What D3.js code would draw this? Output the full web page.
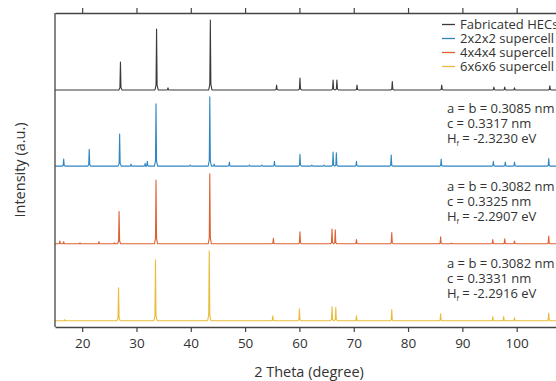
<html>
<head>
    <meta charset="utf-8">
    <title>XRD</title>
</head>
<style>
    body { margin: 0; background: #fff; }
    svg { display: block; font-family: "Open Sans", sans-serif; }
</style>
<body>
<script src="https://cdn.jsdelivr.net/npm/d3@7"></script>
<script>
    // series names, colours, vertical offsets (a.u.)
    var names = ["Fabricated HECs", "2x2x2 supercell", "4x4x4 supercell", "6x6x6 supercell"];
    var colors = ["#3a3a3a", "#2f86c0", "#dd6233", "#e9bd3c"];
    var offsets = [339, 230, 119, 9];

    // peak positions (2 theta) and relative intensities
    var fabPos = [27.05, 33.7, 35.8, 43.6, 55.8, 60.1, 66.2, 66.9, 70.6, 77.1, 86.2, 95.8, 97.8, 99.6, 106.1];
    var fabInt = [40, 87, 3, 100, 7, 17, 14, 14, 7, 12, 7, 4, 4, 3, 6];

    var s2Pos = [16.6, 21.3, 26.9, 29.0, 31.6, 32.0, 33.6, 39.9, 43.5, 44.3, 47.1, 50.8, 53.1, 55.4, 60.1, 62.3, 64.5, 66.2, 66.8, 70.5, 76.9, 86.1, 95.7, 97.9, 99.6, 105.9];
    var s2Int = [10, 24, 46, 3, 4, 7, 89, 1.5, 99, 3, 6, 1.5, 1.5, 7, 17, 1.5, 1.5, 20, 19, 7, 16, 10, 7, 6, 6, 11];

    var s4Pos = [15.9, 16.6, 19.6, 23.1, 25.9, 26.8, 33.6, 43.5, 55.2, 60.1, 66.0, 66.6, 70.5, 77.0, 86.0, 88.0, 95.6, 97.8, 99.6, 105.9];
    var s4Int = [4, 3, 1.5, 3, 1.5, 46, 91, 100, 8, 17, 21, 20, 6, 16, 10, 1, 6, 7, 4, 11];

    var s6Pos = [16.8, 26.7, 33.5, 43.4, 55.1, 60.0, 66.0, 66.7, 70.5, 77.0, 86.0, 95.6, 97.6, 99.6, 105.9];
    var s6Int = [1.5, 47, 87, 100, 7, 17, 20, 19, 7, 16, 10, 6, 6, 4, 11];

    var xTicks = [20, 30, 40, 50, 60, 70, 80, 90, 100];

    var notes = [
        null,
        ["a = b = 0.3085 nm", "c = 0.3317 nm", "-2.3230 eV"],
        ["a = b = 0.3082 nm", "c = 0.3325 nm", "-2.2907 eV"],
        ["a = b = 0.3082 nm", "c = 0.3331 nm", "-2.2916 eV"]
    ];

    var positions = [fabPos, s2Pos, s4Pos, s6Pos];
    var intensities = [fabInt, s2Int, s4Int, s6Int];

    var W = 556, H = 381;
    var mLeft = 55, mRight = 571, mTop = 13, mBottom = 327;

    var svg = d3.select("body").append("svg")
        .attr("width", W)
        .attr("height", H);

    var x = d3.scaleLinear().domain([15, 110]).range([mLeft, mRight]);
    var y = d3.scaleLinear().domain([0, 449]).range([mBottom, mTop]);

    // build a stick-like profile for each peak
    function profile(pos, inten) {
        var pts = [[15, 0]];
        pos.forEach(function (p, i) {
            var h = inten[i];
            pts.push([p - 0.3, 0], [p - 0.1, h * 0.08], [p, h], [p + 0.1, h * 0.08], [p + 0.3, 0]);
        });
        pts.push([110, 0]);
        return pts;
    }

    var line = d3.line();

    positions.forEach(function (pos, k) {
        var off = offsets[k];
        svg.append("path")
            .attr("fill", "none")
            .attr("stroke", colors[k])
            .attr("stroke-width", 1.1)
            .attr("stroke-linejoin", "round")
            .attr("d", line(profile(pos, intensities[k]).map(function (d) {
                return [x(d[0]), y(d[1] + off)];
            })));
    });

    // axes
    var axB = svg.append("g")
        .attr("transform", "translate(0," + mBottom + ")")
        .call(d3.axisBottom(x).tickValues(xTicks).tickSize(5).tickSizeOuter(0).tickPadding(6));
    var axT = svg.append("g")
        .attr("transform", "translate(0," + mTop + ")")
        .call(d3.axisTop(x).tickValues(xTicks).tickSize(5).tickSizeOuter(0).tickFormat(""));
    [axB, axT].forEach(function (g) {
        g.select(".domain").attr("stroke", "#444").attr("stroke-width", 1.3);
        g.selectAll(".tick line").attr("stroke", "#444").attr("stroke-width", 1.2);
        g.selectAll(".tick text").attr("fill", "#333").attr("font-size", 13.5)
            .attr("font-family", "Open Sans, sans-serif");
    });
    svg.append("line")
        .attr("x1", mLeft).attr("x2", mLeft)
        .attr("y1", mTop).attr("y2", mBottom)
        .attr("stroke", "#444").attr("stroke-width", 1.3);

    // labels
    svg.append("text")
        .attr("x", 309).attr("y", 377)
        .attr("text-anchor", "middle")
        .attr("font-size", 14.5).attr("fill", "#333")
        .text("2 Theta (degree)");
    svg.append("text")
        .attr("transform", "translate(25," + (mTop + mBottom) / 2 + ") rotate(-90)")
        .attr("text-anchor", "middle")
        .attr("font-size", 14.5).attr("fill", "#333")
        .text("Intensity (a.u.)");

    // legend
    names.forEach(function (n, i) {
        var cy = 24.5 + i * 14;
        svg.append("line")
            .attr("x1", 442).attr("x2", 455)
            .attr("y1", cy).attr("y2", cy)
            .attr("stroke", colors[i]).attr("stroke-width", 1.3);
        svg.append("text")
            .attr("x", 460).attr("y", cy + 4.6)
            .attr("font-size", 13).attr("fill", "#333")
            .text(n);
    });

    // lattice annotations
    notes.forEach(function (nt, k) {
        if (!nt) return;
        var base = y(offsets[k]);
        var g = svg.append("g").attr("font-size", 13).attr("fill", "#333");
        g.append("text").attr("x", 447).attr("y", base - 53).text(nt[0]);
        g.append("text").attr("x", 447).attr("y", base - 38).text(nt[1]);
        var t = g.append("text").attr("x", 447).attr("y", base - 23);
        t.append("tspan").text("H");
        t.append("tspan").attr("font-size", 7).attr("dy", 3).text("f");
        t.append("tspan").attr("dy", -3).text(" = " + nt[2]);
    });
</script>
</body>
</html>
